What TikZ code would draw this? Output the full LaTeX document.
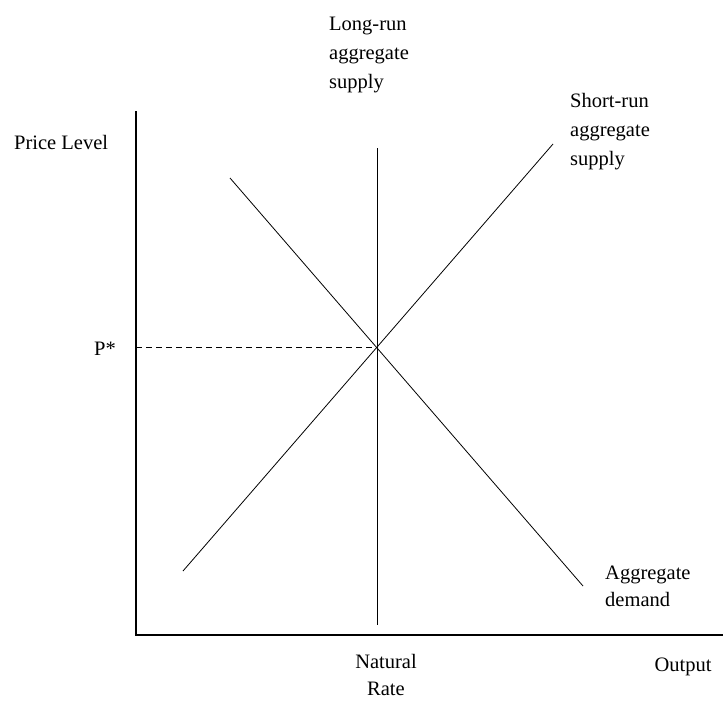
\documentclass[tikz,border=0pt]{standalone}
\usepackage{fontspec}
\setmainfont{Liberation Serif}
\usepackage{xcolor}
\definecolor{ink}{HTML}{000000}

\begin{document}
\begin{tikzpicture}[x=1pt,y=-1pt,font=\fontsize{20.5}{29}\selectfont,
  axisline/.style={draw=ink,line width=1.3pt},
  curve/.style={draw=ink,line width=.8pt},
  lbl/.style={text=ink,inner sep=0pt,align=left}]
\useasboundingbox (0,0) rectangle (723,702);
% axes
\coordinate (ytop) at (136,111);
\coordinate (orig) at (136,635);
\coordinate (xend) at (723,635);
\draw[axisline] (ytop) -- (orig) -- (xend);
% curves
\coordinate (eq) at (377,347);
\coordinate (lrtop) at (377,148);
\coordinate (lrbot) at (377,625);
\coordinate (adtop) at (230,178);
\coordinate (adbot) at (583,586);
\coordinate (srbot) at (183,571);
\coordinate (srtop) at (553,144);
\coordinate (pstar) at (136,347);
\draw[curve] (lrtop) -- (lrbot);
\draw[curve] (adtop) -- (adbot);
\draw[curve] (srbot) -- (srtop);
\draw[curve,dash pattern=on 6pt off 4pt] (pstar) -- (eq);
% labels
\node[lbl,anchor=base west] (pricelbl) at (14,149) {Price Level};
\node[lbl,anchor=base] (plbl) at (105,355) {P*};
\node[lbl,anchor=north west] (lrlbl) at (329,17) {Long-run\\aggregate\\supply};
\node[lbl,anchor=north west] (srlbl) at (570,93) {Short-run\\aggregate\\supply};
\node[lbl,anchor=north west,font=\fontsize{20.5}{27}\selectfont] (adlbl) at (605,566) {Aggregate\\demand};
\node[lbl,anchor=north,align=center,font=\fontsize{20.5}{27}\selectfont] (natlbl) at (386,654) {Natural\\Rate};
\node[lbl,anchor=base] (outlbl) at (683,671) {Output};
\end{tikzpicture}
\end{document}
